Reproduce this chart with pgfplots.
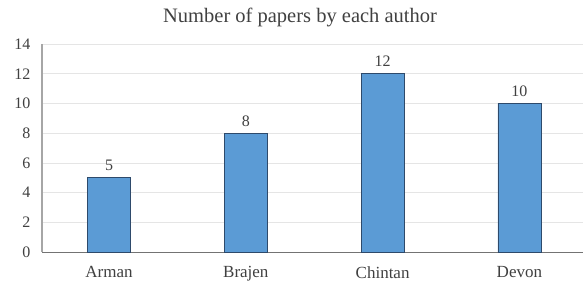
\documentclass[border=0pt]{standalone}
\usepackage{pgfplots}
\pgfplotsset{compat=1.18}
\usepackage{fontspec}
\setmainfont{Liberation Serif}
\definecolor{barblue}{HTML}{5B9BD5}
\definecolor{baredge}{HTML}{2E4A6B}
\definecolor{txt}{HTML}{404040}
\begin{document}
\begin{tikzpicture}
\useasboundingbox (-42pt,-33pt) rectangle (541pt,252pt);
\begin{axis}[
  at={(0pt,0pt)}, anchor=south west,
  scale only axis, width=541pt, height=208pt,
  xmin=-0.49, xmax=3.465, ymin=0, ymax=14,
  ytick={0,2,...,14},
  xtick={0,1,2,3},
  xticklabels={Arman,Brajen,Chintan,Devon},
  axis x line=bottom, axis y line=left,
  x axis line style={-, color=black!55, line width=0.8pt},
  y axis line style={-, color=black!35, line width=1.2pt},
  major tick length=0pt,
  ymajorgrids, grid style={color=black!10, line width=0.7pt},
  /pgf/number format/assume math mode=true,
  yticklabel style={font=\fontsize{16}{19}\selectfont, text=txt, xshift=-8pt},
  xticklabel style={font=\fontsize{17}{20}\selectfont, text=txt, yshift=-11pt},
  title={Number of papers by each author},
  title style={font=\fontsize{20.5}{24}\selectfont, text=txt, at={(axis description cs:0.477,1.075)}, anchor=base, inner sep=0pt},
  ybar, bar width=43pt,
  nodes near coords,
  every node near coord/.append style={font=\fontsize{16}{19}\selectfont, text=txt, yshift=3pt},
  clip=false,
]
\addplot[fill=barblue, draw=baredge, line width=0.8pt] coordinates {(0,5) (1,8) (2,12) (3,10)};
\end{axis}
\end{tikzpicture}
\end{document}
